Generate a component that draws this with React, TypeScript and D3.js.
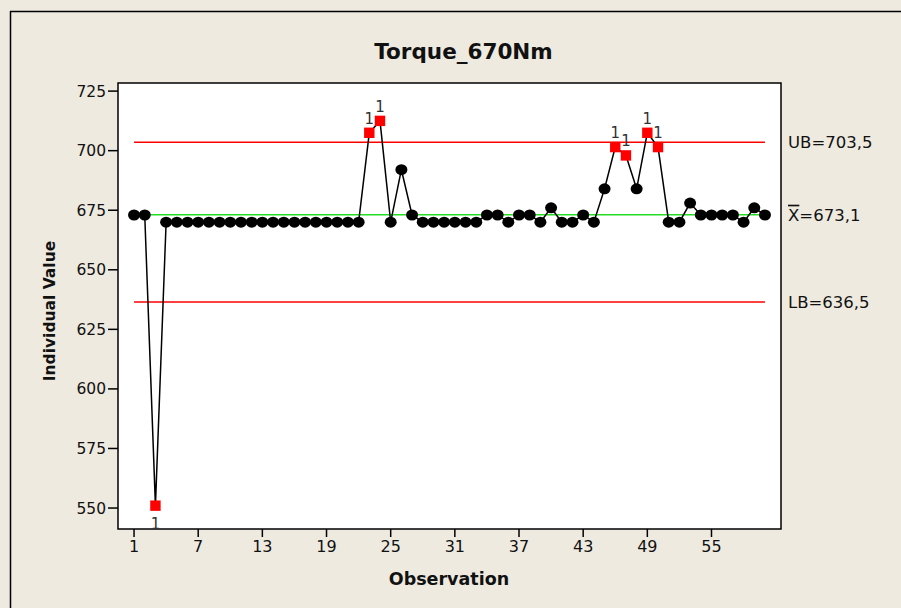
import React from "react";
import * as d3 from "d3";

const observations = d3.range(1, 61);
const values = [
  673, 673, 551, 670, 670, 670, 670, 670, 670, 670,
  670, 670, 670, 670, 670, 670, 670, 670, 670, 670,
  670, 670, 707.5, 712.5, 670, 692, 673, 670, 670, 670,
  670, 670, 670, 673, 673, 670, 673, 673, 670, 676,
  670, 670, 673, 670, 684, 701.5, 698, 684, 707.5, 701.5,
  670, 670, 678, 673, 673, 673, 673, 670, 676, 673,
];
const flagged = [3, 23, 24, 46, 47, 49, 50];
const xTicks = [1, 7, 13, 19, 25, 31, 37, 43, 49, 55];
const yTicks = [550, 575, 600, 625, 650, 675, 700, 725];
const UB = 703.5;
const LB = 636.5;
const CL = 673.1;
const limitLabels = ["UB=703,5", "=673,1", "LB=636,5"];

const W = 901;
const H = 608;
const FONT = "'DejaVu Sans', Verdana, sans-serif";

export default function App() {
  const left = 118, right = 781, top = 83, bottom = 529;
  const x = d3.scaleLinear().domain([-0.5, 61.5]).range([left, right]);
  const y = d3.scaleLinear().domain([541.2, 728.4]).range([bottom, top]);
  const pts = observations.map((o, i) => ({ o, v: values[i], bad: flagged.includes(o) }));
  const line = d3.line<{ o: number; v: number }>().x((d) => x(d.o)).y((d) => y(d.v));
  const x0 = x(1), x1 = x(60);

  return (
    <svg width={W} height={H} style={{ display: "block", position: "absolute", left: 0, top: 0 }} fontFamily={FONT}>
      <rect x={0} y={0} width={W} height={H} fill="#EEEAE0" />
      <line x1={10.5} y1={11} x2={10.5} y2={H} stroke="#000" strokeWidth={1.5} />
      <line x1={10} y1={11.5} x2={W} y2={11.5} stroke="#000" strokeWidth={1.5} />
      <rect x={left} y={top} width={right - left} height={bottom - top} fill="#fff" stroke="#000" strokeWidth={1.5} />

      <text x={463.5} y={59} textAnchor="middle" fontWeight="bold" fontSize={21.5} fill="#111">Torque_670Nm</text>

      {yTicks.map((t) => (
        <g key={t}>
          <line x1={left - 10} x2={left} y1={y(t)} y2={y(t)} stroke="#000" strokeWidth={1.5} />
          <text x={left - 12} y={y(t)} dy="0.36em" textAnchor="end" fontSize={15.5} fill="#111">{t}</text>
        </g>
      ))}
      {xTicks.map((t) => (
        <g key={t}>
          <line x1={x(t)} x2={x(t)} y1={bottom} y2={bottom + 8} stroke="#000" strokeWidth={1.5} />
          <text x={x(t)} y={552} textAnchor="middle" fontSize={16} fill="#111">{t}</text>
        </g>
      ))}

      <text x={449} y={585} textAnchor="middle" fontWeight="bold" fontSize={17.5} fill="#111">Observation</text>
      <text transform="translate(55,311) rotate(-90)" textAnchor="middle" fontWeight="bold" fontSize={15.5} fill="#111">Individual Value</text>

      <line x1={x0} x2={x1} y1={y(UB)} y2={y(UB)} stroke="#ff0000" strokeWidth={1.5} />
      <line x1={x0} x2={x1} y1={y(LB)} y2={y(LB)} stroke="#ff0000" strokeWidth={1.5} />
      <line x1={x0} x2={x1} y1={y(CL)} y2={y(CL)} stroke="#22dd22" strokeWidth={1.5} />

      <path d={line(pts) || ""} fill="none" stroke="#000" strokeWidth={1.5} />
      {pts.map((p) =>
        p.bad ? (
          <g key={p.o}>
            <rect x={x(p.o) - 5.2} y={y(p.v) - 5.2} width={10.4} height={10.4} fill="#ff0000" />
            <text x={x(p.o)} y={p.v < LB ? y(p.v) + 23 : y(p.v) - 9} textAnchor="middle" fontSize={15} fill="#333">1</text>
          </g>
        ) : (
          <ellipse key={p.o} cx={x(p.o)} cy={y(p.v)} rx={6} ry={5.5} fill="#000" />
        )
      )}

      <text x={788} y={y(UB)} dy="0.36em" fontSize={16.5} fill="#111">{limitLabels[0]}</text>
      <text x={788} y={y(CL)} dy="0.36em" fontSize={16.5} fill="#111">
        <tspan textDecoration="overline">X</tspan>{limitLabels[1]}
      </text>
      <text x={788} y={y(LB)} dy="0.36em" fontSize={16.5} fill="#111">{limitLabels[2]}</text>
    </svg>
  );
}
